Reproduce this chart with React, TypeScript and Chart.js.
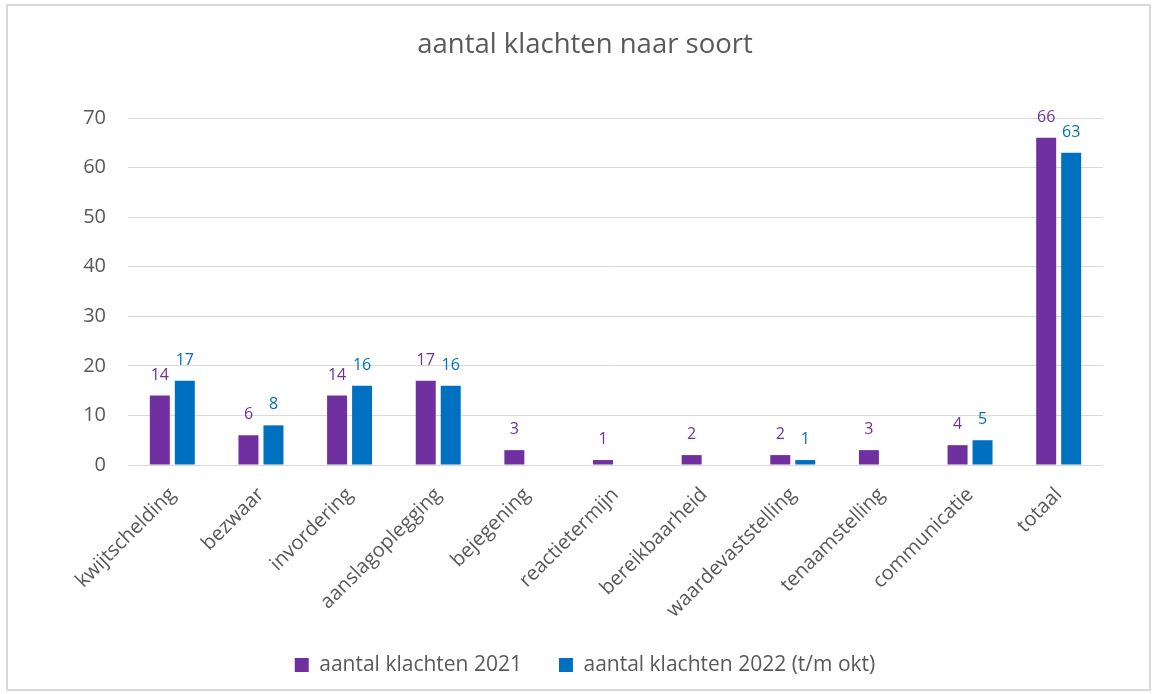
import React, { useEffect, useRef } from "react";
import { Chart, registerables } from "chart.js";

Chart.register(...registerables);

const categories = [
  "kwijtschelding",
  "bezwaar",
  "invordering",
  "aanslagoplegging",
  "bejegening",
  "reactietermijn",
  "bereikbaarheid",
  "waardevaststelling",
  "tenaamstelling",
  "communicatie",
  "totaal",
];
const values2021 = [14, 6, 14, 17, 3, 1, 2, 2, 3, 4, 66];
const values2022 = [17, 8, 16, 16, null, null, null, 1, null, 5, 63];
const seriesNames = ["aantal klachten 2021", "aantal klachten 2022 (t/m okt)"];
const titleText = "aantal klachten naar soort";

const PURPLE = "#7030A0";
const BLUE = "#0070C0";
const TEXT = "#595959";
const GRID = "#d9d9d9";
const FONT = "'Open Sans', 'Noto Sans', sans-serif";

const valueLabels = {
  id: "valueLabels",
  afterDatasetsDraw(chart: any) {
    const ctx = chart.ctx;
    ctx.save();
    ctx.font = `16px ${FONT}`;
    ctx.textAlign = "center";
    ctx.textBaseline = "alphabetic";
    chart.data.datasets.forEach((ds: any, i: number) => {
      const meta = chart.getDatasetMeta(i);
      ctx.fillStyle = ds.backgroundColor;
      meta.data.forEach((el: any, j: number) => {
        const v = ds.data[j];
        if (v === null || v === undefined) return;
        ctx.fillText(String(v), el.x, el.y - 16);
      });
    });
    ctx.restore();
  },
};

export default function App() {
  const ref = useRef<HTMLCanvasElement | null>(null);
  useEffect(() => {
    if (!ref.current) return;
    const chart = new Chart(ref.current, {
      type: "bar",
      data: {
        labels: categories,
        datasets: [
          {
            label: seriesNames[0],
            data: values2021,
            backgroundColor: PURPLE,
            categoryPercentage: 0.564,
            barPercentage: 0.8,
          },
          {
            label: seriesNames[1],
            data: values2022,
            backgroundColor: BLUE,
            categoryPercentage: 0.564,
            barPercentage: 0.8,
          },
        ],
      },
      options: {
        responsive: false,
        animation: false,
        layout: { padding: { left: 13, right: 0, top: 0, bottom: 3.5 } },
        plugins: {
          title: {
            display: true,
            text: titleText,
            color: TEXT,
            font: { family: FONT, size: 27.5, weight: "normal" },
            padding: { top: 22.5, bottom: 56.5 },
          },
          legend: {
            position: "bottom",
            labels: {
              color: TEXT,
              font: { family: FONT, size: 21 },
              boxWidth: 14,
              boxHeight: 14,
              padding: 37,
            },
          },
          tooltip: { enabled: false },
        },
        scales: {
          x: {
            grid: { display: false },
            border: { display: false },
            ticks: {
              color: TEXT,
              font: { family: FONT, size: 20 },
              maxRotation: 45,
              minRotation: 45,
              autoSkip: false,
              padding: 10,
            },
            afterFit(scale: any) {
              scale.height = 152.5;
            },
          },
          y: {
            min: 0,
            max: 70,
            ticks: {
              stepSize: 10,
              color: TEXT,
              font: { family: FONT, size: 20 },
              padding: 22,
            },
            grid: { color: GRID, lineWidth: 1, drawTicks: false },
            border: { display: false },
            afterFit(scale: any) {
              scale.width = 107;
            },
          },
          yRight: {
            position: "right",
            min: 0,
            max: 70,
            grid: { display: false, drawTicks: false },
            border: { display: false },
            ticks: { display: false },
            afterFit(scale: any) {
              scale.width = 46;
            },
          },
        },
      },
      plugins: [valueLabels],
    });
    return () => chart.destroy();
  }, []);

  return (
    <div
      style={{
        position: "fixed",
        left: 6,
        top: 4,
        width: 1145,
        height: 687,
        boxSizing: "border-box",
        border: "2px solid #d9d9d9",
        background: "#fff",
      }}
    >
      <canvas ref={ref} width={1141} height={683} style={{ display: "block" }} />
    </div>
  );
}
